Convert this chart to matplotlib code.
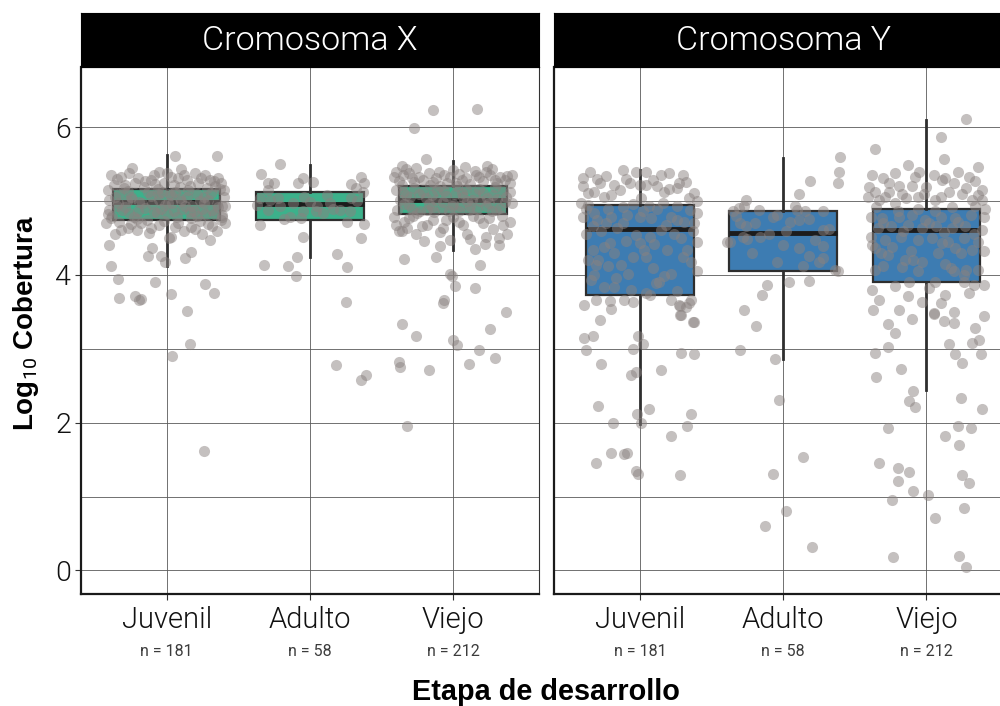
import matplotlib.pyplot as plt
from matplotlib.transforms import blended_transform_factory

# ---- data ----
etapas = ['Juvenil', 'Adulto', 'Viejo']
n_labels = ['n = 181', 'n = 58', 'n = 212']
paneles = ['Cromosoma X', 'Cromosoma Y']
colores = ['#3cb18b', '#3d7cb2']

# box statistics (log10 coverage) per stage
x_whislo = [4.12, 4.25, 4.34]
x_q1 = [4.74, 4.75, 4.83]
x_med = [4.99, 4.96, 5.01]
x_q3 = [5.17, 5.12, 5.21]
x_whishi = [5.62, 5.49, 5.55]

y_whislo = [1.98, 2.86, 2.44]
y_q1 = [3.73, 4.06, 3.91]
y_med = [4.62, 4.57, 4.61]
y_q3 = [4.95, 4.86, 4.90]
y_whishi = [5.42, 5.58, 6.10]

# jittered points: (horizontal jitter, log10 coverage)
x_juvenil_pts = [
    (0.06, 5.61), (0.35, 5.61), (-0.40, 4.40), (-0.10, 4.37), (-0.13, 4.26), (-0.04, 4.26),
    (0.17, 4.31), (0.13, 4.23), (0.30, 4.47), (0.02, 4.50), (-0.39, 4.12), (-0.34, 3.95),
    (-0.08, 3.90), (0.27, 3.88), (0.33, 3.76), (-0.33, 3.69), (-0.22, 3.72), (-0.18, 3.67),
    (0.03, 3.74), (0.14, 3.51), (0.16, 3.07), (0.04, 2.90), (0.26, 1.61), (-0.19, 3.66),
    (-0.385, 5.36), (-0.35, 5.30), (-0.32, 5.33), (-0.26, 5.38), (-0.20, 5.31), (-0.15, 5.27),
    (-0.11, 5.29), (-0.05, 5.40), (0.00, 5.38), (0.03, 5.33), (0.08, 5.31), (0.12, 5.36),
    (0.20, 5.38), (0.24, 5.31), (0.30, 5.29), (0.38, 5.24), (-0.41, 5.15), (-0.40, 5.02),
    (-0.385, 4.77), (0.39, 4.93), (0.39, 4.79), (0.40, 5.15), (-0.29, 5.22), (-0.08, 5.23),
    (0.16, 5.21), (0.34, 5.20), (-0.24, 5.45), (0.10, 5.44), (-0.02, 5.25), (0.27, 5.35),
    (-0.32, 4.61), (-0.27, 4.63), (-0.21, 4.61), (-0.11, 4.63), (-0.05, 4.68), (0.06, 4.65),
    (0.17, 4.65), (0.20, 4.62), (0.32, 4.66), (0.03, 4.52), (-0.42, 4.70), (0.41, 4.70),
    (-0.36, 4.55), (0.25, 4.55), (-0.01, 4.17),
    (-0.38, 4.80), (-0.33, 5.10), (-0.29, 4.92), (-0.25, 5.05), (-0.21, 4.76), (-0.17, 4.98),
    (-0.13, 5.13), (-0.09, 4.85), (-0.05, 5.02), (-0.01, 4.95), (0.03, 5.08), (0.07, 4.79),
    (0.11, 4.90), (0.15, 5.15), (0.19, 4.87), (0.23, 5.00), (0.27, 4.83), (0.31, 5.11),
    (0.35, 4.96), (0.39, 4.81), (-0.36, 5.06), (-0.31, 4.88), (-0.27, 5.14), (-0.23, 4.78),
    (-0.19, 4.99), (-0.15, 4.91), (-0.11, 5.07), (-0.07, 4.84), (-0.03, 5.12), (0.01, 4.97),
    (0.05, 4.86), (0.09, 5.04), (0.13, 4.93), (0.17, 4.77), (0.21, 5.09), (0.25, 4.89),
    (0.29, 5.01), (0.33, 4.82), (0.37, 5.16), (0.41, 4.94), (-0.34, 4.98), (-0.24, 5.03),
    (-0.14, 4.75), (-0.04, 4.90), (0.06, 5.13), (0.16, 4.85), (0.26, 5.06), (0.36, 4.92),
    (-0.40, 4.88), (0.02, 5.10),
    (-0.37, 5.22), (-0.30, 5.18), (-0.22, 5.25), (-0.16, 5.19), (-0.09, 5.35), (-0.06, 5.17),
    (0.05, 5.22), (0.09, 5.19), (0.14, 5.28), (0.22, 5.24), (0.28, 5.18), (0.33, 5.27),
    (0.36, 5.31), (-0.33, 4.72), (-0.25, 4.69), (-0.18, 4.71), (-0.12, 4.57), (-0.02, 4.73),
    (0.08, 4.70), (0.12, 4.60), (0.23, 4.73), (0.29, 4.69), (0.35, 4.60), (0.38, 4.74),
    (-0.35, 4.93), (-0.28, 5.00), (-0.20, 4.86), (-0.10, 4.96), (0.00, 4.82), (0.10, 5.00),
    (0.18, 4.94), (0.26, 4.98), (0.32, 4.88), (0.40, 5.05), (-0.41, 4.83), (-0.06, 5.09),
    (0.14, 5.06), (-0.26, 4.84), (0.21, 4.80), (0.04, 4.97),
]
x_adulto_pts = [
    (-0.21, 5.50), (-0.34, 5.37), (-0.29, 5.25), (-0.25, 5.25), (-0.29, 5.15), (-0.085, 5.24),
    (-0.05, 5.31), (0.02, 5.26), (0.29, 5.23), (0.32, 5.18), (0.36, 5.32), (0.38, 5.24),
    (0.37, 5.13), (-0.35, 4.68), (-0.14, 4.78), (-0.06, 4.77), (0.26, 4.72), (0.38, 4.69),
    (0.36, 4.50), (-0.05, 4.51), (0.19, 4.29), (-0.09, 4.25), (-0.15, 4.12), (-0.10, 3.98),
    (0.26, 4.11), (0.25, 3.63), (0.18, 2.78), (0.39, 2.64), (0.36, 2.58),
    (-0.28, 5.02), (-0.22, 5.04), (-0.04, 5.06), (0.00, 4.99), (0.05, 4.93), (0.21, 4.88),
    (0.29, 5.04), (-0.29, 4.88), (-0.05, 4.86), (0.09, 4.84), (0.16, 4.90), (0.28, 4.86),
    (-0.35, 5.04), (0.14, 4.97), (-0.21, 4.93), (-0.12, 4.97), (0.04, 4.86), (0.33, 5.00),
    (-0.37, 4.95), (0.12, 5.08), (-0.18, 4.76), (-0.32, 4.13),
]
x_viejo_pts = [
    (-0.14, 6.24), (0.17, 6.25), (-0.27, 5.99), (-0.19, 5.57), (0.24, 5.48), (-0.36, 5.48),
    (0.38, 5.34),
    (-0.40, 5.40), (-0.35, 5.36), (-0.29, 5.31), (-0.24, 5.33), (-0.17, 5.38), (-0.12, 5.31),
    (-0.06, 5.36), (-0.02, 5.33), (0.04, 5.37), (0.09, 5.31), (0.15, 5.41), (0.18, 5.33),
    (0.23, 5.40), (0.29, 5.29), (0.33, 5.32), (-0.38, 5.27), (-0.27, 5.26), (-0.14, 5.26),
    (0.02, 5.24), (0.40, 5.24),
    (-0.40, 4.68), (-0.36, 4.59), (-0.32, 4.63), (-0.31, 4.77), (-0.18, 4.68), (-0.09, 4.58),
    (-0.05, 4.75), (0.04, 4.72), (0.12, 4.49), (0.18, 4.77), (0.23, 4.52), (0.25, 4.77),
    (0.32, 4.50), (0.32, 4.41), (0.35, 4.68), (-0.09, 4.39), (-0.12, 4.24), (-0.34, 4.22),
    (0.15, 4.35), (0.19, 4.13), (-0.02, 4.02),
    (-0.36, 3.34), (-0.26, 3.18), (-0.38, 2.82), (-0.37, 2.75), (-0.17, 2.72), (-0.32, 1.96),
    (0.00, 3.12), (0.03, 3.05), (0.11, 2.80), (0.18, 2.99), (0.29, 2.87), (0.26, 3.27),
    (0.37, 3.50), (-0.07, 3.62), (-0.01, 3.98), (0.01, 3.85), (0.15, 3.83), (-0.06, 3.66),
    (-0.39, 4.88), (-0.35, 5.12), (-0.31, 4.95), (-0.27, 5.18), (-0.23, 4.86), (-0.19, 5.04),
    (-0.15, 4.92), (-0.11, 5.15), (-0.07, 4.99), (-0.03, 4.87), (0.01, 5.09), (0.05, 4.94),
    (0.09, 5.17), (0.13, 5.02), (0.17, 4.89), (0.21, 5.11), (0.25, 4.97), (0.29, 5.19),
    (0.33, 4.91), (0.37, 5.06), (0.41, 4.98), (-0.37, 5.01), (-0.29, 4.90), (-0.21, 5.13),
    (-0.13, 4.85), (-0.05, 5.07), (0.03, 5.20), (0.11, 4.88), (0.19, 5.00), (0.27, 4.86),
    (0.35, 5.14), (-0.33, 5.08), (-0.17, 4.96), (-0.01, 4.93), (0.15, 5.10), (0.31, 5.03),
    (-0.25, 4.84), (0.07, 5.05), (0.23, 4.93), (-0.09, 5.20),
    (-0.41, 5.32), (-0.36, 5.22), (-0.31, 5.38), (-0.26, 5.45), (-0.21, 5.28), (-0.16, 5.22),
    (-0.10, 5.40), (-0.04, 5.25), (0.00, 5.42), (0.06, 5.28), (0.12, 5.23), (0.16, 5.35),
    (0.21, 5.27), (0.26, 5.36), (0.31, 5.24), (0.36, 5.28), (0.41, 5.35), (-0.33, 5.44),
    (0.08, 5.46), (0.27, 5.44),
    (-0.41, 4.78), (-0.34, 4.72), (-0.28, 4.80), (-0.22, 4.66), (-0.14, 4.74), (-0.07, 4.64),
    (0.00, 4.78), (0.07, 4.68), (0.14, 4.80), (0.21, 4.70), (0.28, 4.62), (0.34, 4.80),
    (0.40, 4.72), (-0.26, 4.55), (0.10, 4.56), (0.38, 4.56), (-0.02, 4.48), (-0.38, 4.60),
    (0.22, 4.42), (-0.20, 4.46),
    (-0.40, 5.15), (-0.34, 4.96), (-0.24, 5.09), (-0.18, 4.88), (-0.12, 5.02), (-0.06, 5.14),
    (0.00, 4.96), (0.06, 5.11), (0.12, 4.93), (0.18, 5.16), (0.24, 5.04), (0.30, 4.88),
    (0.36, 4.99), (0.40, 5.12), (-0.30, 5.05), (-0.08, 4.90), (0.10, 5.00), (0.28, 5.08),
    (-0.15, 5.08), (0.04, 4.86),
]
y_juvenil_pts = [
    (-0.35, 5.40), (-0.40, 5.31), (-0.24, 5.34), (-0.12, 5.42), (-0.03, 5.40), (0.04, 5.40),
    (0.15, 5.36), (0.20, 5.38), (0.30, 5.36), (-0.28, 5.24), (-0.18, 5.22), (-0.07, 5.24),
    (0.04, 5.22), (0.12, 5.20), (0.27, 5.24), (-0.36, 5.11), (-0.32, 5.13), (-0.14, 5.15),
    (0.17, 5.13), (0.26, 5.18), (0.38, 5.11), (0.34, 5.04), (-0.40, 4.79), (0.40, 4.84),
    (-0.25, 5.06), (0.01, 5.04), (-0.41, 4.97),
    (-0.32, 4.84), (-0.20, 4.79), (-0.09, 4.81), (0.08, 4.77), (0.22, 4.79), (0.31, 4.72),
    (-0.33, 4.66), (-0.27, 4.59), (-0.16, 4.63), (-0.03, 4.54), (0.07, 4.52), (0.15, 4.61),
    (0.29, 4.50), (0.37, 4.59), (-0.33, 4.34), (-0.25, 4.38), (-0.21, 4.43), (-0.29, 4.20),
    (-0.31, 4.14), (-0.18, 4.30), (0.00, 4.43), (0.03, 4.34), (0.19, 4.34), (0.04, 4.25),
    (-0.05, 4.25), (0.33, 4.34), (0.36, 4.18), (-0.32, 4.00), (-0.13, 4.14), (-0.25, 3.84),
    (-0.17, 3.96), (-0.18, 3.84), (-0.06, 3.80), (0.13, 3.91), (0.22, 4.02), (0.11, 3.89),
    (-0.34, 3.93), (0.04, 3.75), (0.26, 3.78), (-0.36, 4.20), (-0.38, 4.90), (-0.12, 4.92),
    (0.12, 4.90), (0.26, 4.93), (0.02, 4.86), (-0.24, 4.70), (0.18, 4.68), (0.40, 4.45),
    (-0.31, 3.66), (-0.20, 3.54), (-0.11, 3.66), (-0.05, 3.64), (0.07, 3.73), (0.22, 3.66),
    (0.27, 3.59), (0.34, 3.62), (0.29, 3.46), (-0.39, 3.59), (-0.28, 3.39), (0.38, 3.37),
    (-0.21, 3.65),
    (-0.39, 3.14), (-0.33, 3.18), (-0.38, 2.99), (-0.27, 2.80), (-0.01, 3.18), (0.02, 3.07),
    (-0.05, 3.00), (0.15, 2.71), (-0.06, 2.65), (-0.03, 2.68), (-0.29, 2.22), (0.06, 2.18),
    (-0.19, 1.99), (0.01, 1.99), (-0.02, 2.12), (0.36, 2.12), (0.33, 1.96), (0.22, 1.82),
    (-0.20, 1.59), (-0.11, 1.58), (-0.09, 1.59), (-0.31, 1.45), (-0.03, 1.35), (-0.01, 1.31),
    (0.28, 1.29), (0.29, 2.94), (0.38, 2.93), (0.28, 3.46), (0.37, 3.37), (0.32, 3.57),
    (0.28, 3.58), (0.36, 3.66),
    (-0.40, 5.20), (-0.30, 5.30), (-0.20, 5.08), (-0.10, 5.30), (0.00, 5.22), (0.09, 5.28),
    (0.20, 5.17), (0.32, 5.26), (0.40, 5.00), (-0.36, 4.95), (-0.22, 4.90), (-0.05, 4.96),
    (0.06, 4.93), (0.16, 4.98), (0.35, 4.88), (-0.30, 4.75), (-0.12, 4.70), (0.00, 4.78),
    (0.26, 4.74), (0.38, 4.70), (-0.38, 4.55), (-0.10, 4.46), (0.10, 4.42), (0.24, 4.56),
    (-0.22, 4.12), (0.09, 4.10), (0.30, 4.25), (-0.08, 4.02), (0.17, 3.98), (0.40, 4.05),
]
y_adulto_pts = [
    (0.40, 5.60), (0.39, 5.39), (0.38, 5.24), (0.19, 5.27), (0.11, 5.09), (-0.26, 5.02),
    (-0.27, 4.93), (-0.35, 4.87), (-0.17, 4.88), (-0.07, 4.79), (-0.04, 4.81), (0.08, 4.93),
    (0.10, 4.88), (0.15, 4.87), (0.18, 4.76), (0.11, 4.75), (0.28, 4.87), (-0.30, 4.70),
    (-0.26, 4.67), (0.02, 4.60), (0.28, 4.61), (-0.37, 4.45), (-0.28, 4.52), (-0.25, 4.49),
    (-0.16, 4.51), (0.11, 4.36), (0.18, 4.26), (0.28, 4.39), (0.25, 4.18), (0.28, 4.23),
    (-0.04, 4.17), (0.36, 4.07), (0.38, 4.05), (0.04, 3.91), (0.18, 3.92), (-0.11, 3.87),
    (-0.15, 3.73), (-0.27, 3.52), (-0.19, 3.31), (-0.30, 2.99), (-0.06, 2.86), (-0.03, 2.31),
    (0.14, 1.53), (-0.07, 1.31), (0.02, 0.80), (-0.13, 0.60), (0.20, 0.32), (-0.39, 4.45),
    (-0.31, 4.91), (-0.20, 4.70), (0.05, 4.72), (-0.10, 4.55), (0.22, 4.48), (0.32, 4.62),
    (-0.33, 4.80), (0.00, 4.40), (0.14, 4.12), (-0.22, 4.30),
]
y_viejo_pts = [
    (0.28, 6.11), (0.10, 5.87), (-0.36, 5.70), (0.12, 5.57), (-0.13, 5.49), (-0.05, 5.39),
    (0.36, 5.46), (-0.30, 5.31), (-0.26, 5.25), (-0.40, 5.19), (-0.36, 5.13), (-0.19, 5.21),
    (-0.10, 5.21), (0.00, 5.19), (0.11, 5.29), (0.13, 5.31), (0.19, 5.24), (0.34, 5.27),
    (0.39, 5.15), (-0.29, 5.06), (-0.17, 5.09), (-0.06, 5.06), (0.10, 5.06), (0.25, 5.09),
    (0.32, 5.02), (-0.33, 5.02), (0.06, 5.02), (-0.22, 4.97), (0.39, 5.02),
    (-0.31, 4.77), (-0.19, 4.79), (-0.10, 4.81), (-0.01, 4.75), (0.10, 4.79), (0.20, 4.77),
    (0.31, 4.81), (0.40, 4.79), (-0.39, 4.79), (-0.34, 4.63), (-0.25, 4.66), (-0.13, 4.68),
    (-0.03, 4.63), (0.07, 4.66), (0.18, 4.63), (0.27, 4.67), (0.39, 4.61), (-0.39, 4.52),
    (-0.29, 4.48), (-0.18, 4.52), (-0.06, 4.48), (0.04, 4.50), (0.15, 4.45), (0.26, 4.50),
    (0.36, 4.45), (-0.36, 4.36), (-0.32, 4.30), (-0.27, 4.27), (-0.15, 4.20), (-0.09, 4.20),
    (-0.03, 4.17), (-0.17, 4.11), (0.11, 4.43), (0.24, 4.30), (0.32, 4.34), (0.17, 4.09),
    (0.19, 4.05), (0.28, 4.07), (0.36, 4.07), (-0.36, 4.07), (-0.12, 3.91), (0.26, 3.91),
    (0.33, 3.87), (0.40, 3.87), (0.02, 3.82), (-0.33, 3.66), (-0.13, 3.71), (-0.03, 3.64),
    (0.10, 3.62), (0.13, 3.73), (-0.37, 3.53), (-0.19, 3.53), (0.05, 3.48), (0.19, 3.50),
    (0.40, 3.44),
    (-0.27, 3.34), (-0.22, 3.22), (-0.27, 3.03), (-0.36, 2.95), (-0.35, 2.62), (-0.10, 3.41),
    (-0.18, 2.73), (-0.09, 2.43), (-0.12, 2.30), (-0.08, 2.21), (-0.27, 1.93), (-0.33, 1.45),
    (-0.20, 1.39), (-0.12, 1.33), (-0.20, 1.21), (-0.09, 1.07), (0.01, 1.02), (0.06, 0.71),
    (-0.24, 0.95), (-0.23, 0.18), (0.05, 3.47), (0.12, 3.38), (0.19, 3.35), (0.16, 3.07),
    (0.20, 2.93), (0.25, 2.81), (0.32, 3.08), (0.37, 3.12), (0.38, 2.93), (0.34, 3.28),
    (0.24, 2.34), (0.39, 2.18), (0.22, 1.95), (0.31, 1.93), (0.13, 1.82), (0.23, 1.70),
    (0.25, 1.29), (0.30, 1.18), (0.26, 0.85), (0.23, 0.20), (0.28, 0.05),
    (-0.38, 5.35), (-0.22, 5.38), (-0.08, 5.32), (0.05, 5.35), (0.22, 5.40), (0.30, 5.33),
    (-0.41, 5.05), (-0.26, 5.12), (-0.14, 5.04), (-0.02, 5.10), (0.16, 5.12), (0.28, 5.18),
    (0.36, 5.08), (-0.35, 4.92), (-0.20, 4.86), (-0.06, 4.90), (0.06, 4.86), (0.18, 4.92),
    (0.34, 4.94), (0.41, 4.90), (-0.30, 4.70), (-0.16, 4.60), (0.02, 4.70), (0.12, 4.58),
    (0.22, 4.72), (0.33, 4.56), (-0.38, 4.40), (-0.24, 4.38), (-0.11, 4.32), (0.08, 4.30),
    (0.20, 4.37), (0.40, 4.32), (-0.30, 4.12), (-0.06, 4.05), (0.13, 4.15), (0.26, 4.00),
    (-0.22, 3.85), (0.06, 3.90), (-0.38, 3.80), (0.30, 3.75),
]

# ---- fonts ----
plt.rcParams['mathtext.fontset'] = 'custom'
plt.rcParams['mathtext.rm'] = 'Roboto'
plt.rcParams['mathtext.bf'] = 'Liberation Sans:bold'
light = dict(family=['Roboto', 'DejaVu Sans'], fontweight=300)
bold = dict(family=['Liberation Sans', 'DejaVu Sans'], fontweight='bold')

fig = plt.figure(figsize=(10, 7.06), dpi=100)

panel_left = [0.0807, 0.554]
panel_bottom, panel_w, panel_h = 0.1586, 0.4583, 0.7469
strip_h = 0.0765

stats_all = [
    (x_whislo, x_q1, x_med, x_q3, x_whishi),
    (y_whislo, y_q1, y_med, y_q3, y_whishi),
]
pts_all = [
    [x_juvenil_pts, x_adulto_pts, x_viejo_pts],
    [y_juvenil_pts, y_adulto_pts, y_viejo_pts],
]

for p, (left, titulo, color) in enumerate(zip(panel_left, paneles, colores)):
    ax = fig.add_axes([left, panel_bottom, panel_w, panel_h])
    lo, q1, med, q3, hi = stats_all[p]
    stats = [dict(whislo=lo[i], q1=q1[i], med=med[i], q3=q3[i], whishi=hi[i], label=etapas[i])
             for i in range(3)]
    ax.bxp(stats, positions=[0, 1, 2], widths=0.75, patch_artist=True, showfliers=False,
           showcaps=False,
           boxprops=dict(facecolor=color, edgecolor='#2e2e2e', linewidth=1.6),
           medianprops=dict(color='#1c1c1c', linewidth=3.5, solid_capstyle='butt'),
           whiskerprops=dict(color='#2e2e2e', linewidth=2.0))
    for i, pts in enumerate(pts_all[p]):
        xs = [i + d for d, v in pts]
        vs = [v for d, v in pts]
        ax.scatter(xs, vs, s=64, color='#8a8280', alpha=0.5, linewidths=0, zorder=3)

    ax.set_xlim(-0.6, 2.6)
    ax.set_ylim(-0.32, 6.82)
    ax.set_yticks([0, 2, 4, 6])
    ax.set_yticks([1, 3, 5], minor=True)
    ax.set_xticks([0, 1, 2])
    ax.set_xticklabels(etapas, fontsize=21, color='#111111', **light)
    ax.set_axisbelow(True)
    ax.grid(which='major', color='#5a5a5a', linewidth=0.6)
    ax.grid(which='minor', axis='y', color='#5a5a5a', linewidth=0.6)
    ax.tick_params(axis='both', which='major', length=4, width=0.8, color='#333333', pad=4.5)
    ax.tick_params(axis='y', which='minor', length=0)
    if p == 0:
        ax.set_yticklabels(['0', '2', '4', '6'], fontsize=20.5, color='#111111', **light)
        ax.tick_params(axis='y', pad=3)
    else:
        ax.tick_params(axis='y', labelleft=False, length=0)
    for side in ['top', 'right']:
        ax.spines[side].set_linewidth(0.8)
        ax.spines[side].set_color('#333333')
    for side in ['left', 'bottom']:
        ax.spines[side].set_linewidth(1.6)
        ax.spines[side].set_color('#1a1a1a')

    trans = blended_transform_factory(ax.transData, ax.transAxes)
    for i, lab in enumerate(n_labels):
        ax.text(i, -0.109, lab, transform=trans, ha='center', va='center', fontsize=11.5,
                color='#3c3c3c', family=['Roboto', 'DejaVu Sans'])

    # facet strip
    sax = fig.add_axes([left, panel_bottom + panel_h, panel_w, strip_h])
    sax.set_facecolor('black')
    sax.set_xticks([])
    sax.set_yticks([])
    for s in sax.spines.values():
        s.set_color('black')
    sax.text(0.5, 0.47, titulo, transform=sax.transAxes, ha='center', va='center',
             fontsize=24.5, color='white', **light)

fig.text(0.546, 1 - 692 / 706, 'Etapa de desarrollo', ha='center', va='center',
         fontsize=20.8, color='black', **bold)
fig.text(0.026, 1 - 323 / 706, r'$\mathbf{Log}_{10}$ Cobertura', rotation=90, ha='center',
         va='center', fontsize=20, color='black', **bold)

fig.savefig('out.png', dpi=100)
